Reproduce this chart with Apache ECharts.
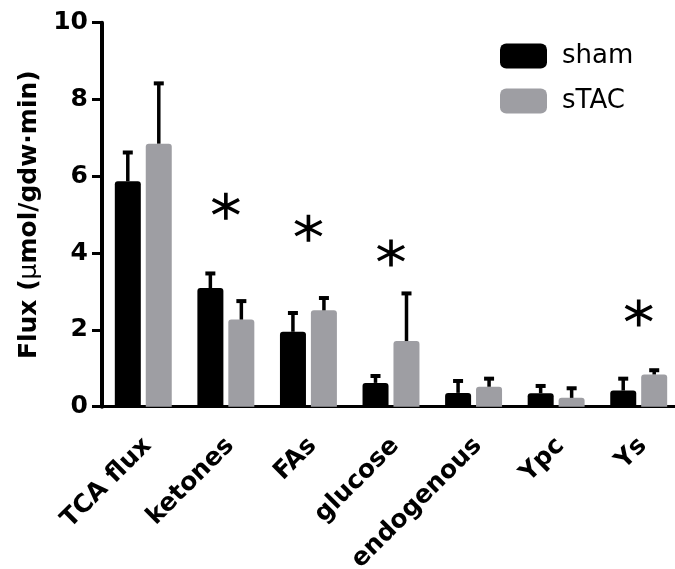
<!DOCTYPE html>
<html>
<head>
  <meta charset="UTF-8" />
  <title>Flux sham vs sTAC</title>
  <script src="https://cdn.jsdelivr.net/npm/echarts@6/dist/echarts.min.js"></script>
  <style>
    html, body { margin: 0; padding: 0; background: #fff; }
    #chart { width: 675px; height: 569px; }
  </style>
</head>
<body>
  <div id="chart"></div>
  <script>
    // values
    const categories = ['TCA flux', 'ketones', 'FAs', 'glucose', 'endogenous', 'Ypc', 'Ys'];
    const shamMean  = [5.87, 3.09, 1.95, 0.62, 0.36, 0.35, 0.42];
    const shamUpper = [6.62, 3.47, 2.44, 0.80, 0.67, 0.54, 0.73];
    const stacMean  = [6.85, 2.27, 2.51, 1.71, 0.52, 0.23, 0.84];
    const stacUpper = [8.42, 2.75, 2.83, 2.95, 0.73, 0.48, 0.95];
    const starLevel = ['-', 5.22, 4.65, 4.0, '-', '-', 2.44];
    const yTicks = [0, 2, 4, 6, 8, 10];

    const FONT = 'DejaVu Sans';
    const GRAY = '#9e9ea3';
    const BAR_W = 26;
    const HALF_STEP = 15.5; // half of bar width + gap

    const asterisk = 'path://M44,0 L56,0 L56,100 L44,100 Z ' +
      'M9.7,80.2 L3.7,69.8 L90.3,19.8 L96.3,30.2 Z ' +
      'M96.3,69.8 L90.3,80.2 L3.7,30.2 L9.7,19.8 Z';

    function errorSeries(name, mean, upper, shift) {
      return {
        name: name + ' err',
        type: 'custom',
        z: 5,
        data: mean.map((m, i) => [i, m, upper[i]]),
        renderItem: (params, api) => {
          const i = api.value(0);
          const base = api.coord([i, api.value(1)]);
          const top = api.coord([i, api.value(2)]);
          const x = base[0] + shift;
          return {
            type: 'group',
            children: [
              { type: 'line', shape: { x1: x, y1: base[1], x2: x, y2: top[1] },
                style: { stroke: '#000', lineWidth: 3.5 } },
              { type: 'line', shape: { x1: x - 5, y1: top[1], x2: x + 5, y2: top[1] },
                style: { stroke: '#000', lineWidth: 4 } }
            ]
          };
        }
      };
    }

    const chart = echarts.init(document.getElementById('chart'), null, { renderer: 'canvas' });
    chart.setOption({
      animation: false,
      textStyle: { fontFamily: FONT, color: '#000' },
      legend: {
        data: ['sham', 'sTAC'],
        orient: 'vertical',
        left: 500,
        top: 43,
        padding: 0,
        itemWidth: 47,
        itemHeight: 25,
        itemGap: 19,
        icon: 'roundRect',
        textStyle: { fontFamily: FONT, fontSize: 26, color: '#000', padding: [0, 0, 0, 10] }
      },
      grid: {
        left: 102, top: 22.7, width: 578, bottom: 162.3,
        containLabel: false, outerBoundsMode: 'none'
      },
      xAxis: {
        type: 'category',
        data: categories,
        axisLine: { lineStyle: { color: '#000', width: 3 } },
        axisTick: { alignWithLabel: true, length: 10, lineStyle: { color: '#000', width: 3 } },
        axisLabel: {
          rotate: 45,
          interval: 0,
          margin: 31,
          verticalAlign: 'top',
          lineHeight: 12,
          fontFamily: FONT,
          fontWeight: 'bold',
          fontSize: 25,
          color: '#000'
        },
        splitLine: { show: false }
      },
      yAxis: {
        type: 'value',
        min: yTicks[0],
        max: yTicks[yTicks.length - 1],
        interval: 2,
        name: 'Flux ({m|μ}mol/gdw·min)',
        nameLocation: 'middle',
        nameGap: 60,
        nameTextStyle: {
          fontFamily: FONT, fontWeight: 'bold', fontSize: 25, color: '#000',
          rich: { m: { fontFamily: FONT, fontWeight: 'normal', fontSize: 25, color: '#000' } }
        },
        axisLine: { show: true, lineStyle: { color: '#000', width: 4 } },
        axisTick: { show: true, length: 10, lineStyle: { color: '#000', width: 3 } },
        axisLabel: { margin: 14, fontFamily: FONT, fontWeight: 'bold', fontSize: 25, color: '#000' },
        splitLine: { show: false }
      },
      series: [
        {
          name: 'sham', type: 'bar', data: shamMean, barWidth: BAR_W, barGap: '19%',
          itemStyle: { color: '#000', borderRadius: [3, 3, 0, 0] }
        },
        {
          name: 'sTAC', type: 'bar', data: stacMean, barWidth: BAR_W,
          itemStyle: { color: GRAY, borderRadius: [3, 3, 0, 0] }
        },
        errorSeries('sham', shamMean, shamUpper, -HALF_STEP),
        errorSeries('sTAC', stacMean, stacUpper, HALF_STEP),
        {
          name: 'significance', type: 'scatter', data: starLevel,
          symbol: asterisk, symbolSize: [28, 27],
          itemStyle: { color: '#000', opacity: 1 }, z: 6
        }
      ]
    });
  </script>
</body>
</html>
